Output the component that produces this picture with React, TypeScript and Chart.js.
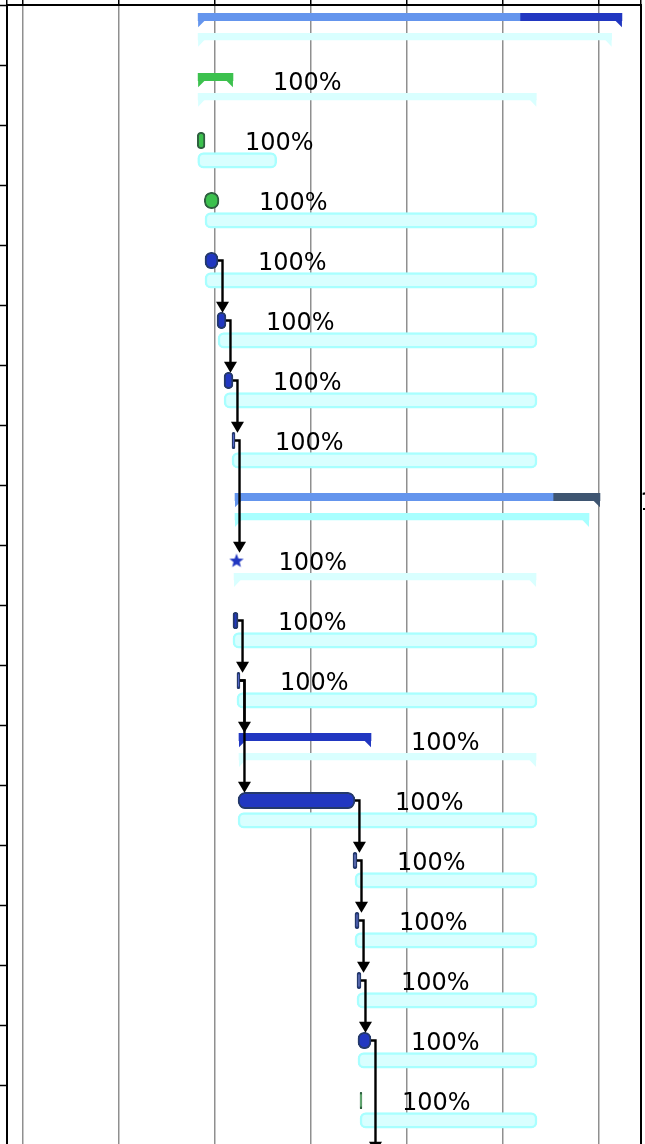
import { useEffect, useRef } from 'react';
import { Chart, registerables } from 'chart.js';

Chart.register(...registerables);

// ---- data (time axis in days; day 0 = first visible gridline) ----
const rowNames = [
  'Project', 'Phase A', 'Task A1', 'Task A2', 'Task A3', 'Task A4', 'Task A5', 'Task A6',
  'Phase B', 'Milestone B0', 'Task B1', 'Task B2', 'Phase C', 'Task C1', 'Task C2',
  'Task C3', 'Task C4', 'Task C5', 'Task C6',
];
const taskKind = [
  'summary', 'summary', 'task', 'task', 'task', 'task', 'task', 'task',
  'summary', 'milestone', 'task', 'task', 'summary', 'task', 'task',
  'task', 'task', 'task', 'task',
];
const taskStart = [12.8, 12.8, 12.74, 13.25, 13.3, 14.18, 14.69, 15.27, 15.49, 15.6, 15.34, 15.63, 15.78, 15.71, 24.09, 24.23, 24.38, 24.45, 24.6];
const taskEnd = [43.69, 15.34, 13.3, 14.32, 14.25, 14.83, 15.34, 15.49, 42.09, 15.6, 15.71, 15.85, 25.4, 24.23, 24.38, 24.53, 24.67, 25.4, 24.74];
const summarySplit = [36.26, null, null, null, null, null, null, null, 38.67, null, null, null, null, null, null, null, null, null, null];

const baseKind = [
  'summary', 'summary', 'task', 'task', 'task', 'task', 'task', 'task',
  'summary', 'summary', 'task', 'task', 'summary', 'task', 'task',
  'task', 'task', 'task', 'task',
];
const baseStart = [12.8, 12.8, 12.77, 13.3, 13.3, 14.25, 14.69, 15.27, 15.49, 15.42, 15.34, 15.63, 15.78, 15.71, 24.23, 24.23, 24.38, 24.45, 24.6];
const baseEnd = [42.94, 37.45, 18.53, 37.5, 37.5, 37.5, 37.5, 37.5, 41.29, 37.43, 37.5, 37.5, 37.43, 37.5, 37.5, 37.5, 37.5, 37.5, 37.5];

const progress = [100, 100, 100, 100, 100, 100, 100, 100, 100, 100, 100, 100, 100, 100, 100, 100, 100, 100, 100];

const links = [[4, 5], [5, 6], [6, 7], [7, 9], [10, 11], [11, 12], [11, 13], [13, 14], [14, 15], [15, 16], [16, 17], [17, 19]];

const xTicks = [-1.13, 0, 7, 14, 21, 28, 35, 42, 45.08];
const yTicks = [-0.5, 0.5, 1.5, 2.5, 3.5, 4.5, 5.5, 6.5, 7.5, 8.5, 9.5, 10.5, 11.5, 12.5, 13.5, 14.5, 15.5, 16.5, 17.5];

// ---- styles ----
const BLUE = '#2137C1';
const LIGHT = '#6495ED';
const SLATE = '#3E5571';
const GREEN = '#3CC14E';
const DKGREEN = '#2F6040';
const NAVY = '#24396B';
const BASE_FILL = '#D9FFFF';
const BASE_EDGE = '#A8FFFF';

const taskColor = [LIGHT, GREEN, GREEN, GREEN, BLUE, BLUE, BLUE, BLUE, LIGHT, BLUE, BLUE, BLUE, BLUE, BLUE, BLUE, BLUE, BLUE, BLUE, GREEN];
const taskBorder = [NAVY, DKGREEN, DKGREEN, DKGREEN, NAVY, NAVY, NAVY, NAVY, NAVY, NAVY, NAVY, NAVY, NAVY, NAVY, NAVY, NAVY, NAVY, NAVY, DKGREEN];
const splitColor = [BLUE, null, null, null, null, null, null, null, SLATE, null, null, null, null, null, null, null, null, null, null];
const baseSummaryColor = [BASE_FILL, BASE_FILL, null, null, null, null, null, null, BASE_EDGE, BASE_FILL, null, null, BASE_FILL, null, null, null, null, null, null];

const X_MIN = -1.13;
const X_MAX = 45.08;
const Y_MIN = -0.5;
const Y_MAX = 18.483;

const TASK_OFF = -0.2417;
const TASK_H = 16.5;
const BASE_OFF = 0.09;
const BASE_H = 15.5;
const SUM_OFF = -0.3;
const SUM_H = 7.5;
const SUMBASE_OFF = 0.027;
const SUMBASE_H = 6.5;
const TIP = 7;
const LABEL_OFF = -0.088;

const rows = rowNames.map((_, i) => i);

const ganttPlugin = {
  id: 'ganttDecor',
  afterDatasetsDraw(chart: any) {
    const { ctx } = chart;
    const x = chart.scales.x;
    const y = chart.scales.y;
    ctx.save();
    const tri = (pts: number[][], color: string) => {
      ctx.beginPath();
      ctx.moveTo(pts[0][0], pts[0][1]);
      ctx.lineTo(pts[1][0], pts[1][1]);
      ctx.lineTo(pts[2][0], pts[2][1]);
      ctx.closePath();
      ctx.fillStyle = color;
      ctx.fill();
    };
    // summary tips
    rows.forEach((r) => {
      if (taskKind[r] === 'summary') {
        const yb = y.getPixelForValue(r + SUM_OFF) + SUM_H / 2 - 0.5;
        const x0 = x.getPixelForValue(taskStart[r]);
        const x1 = x.getPixelForValue(taskEnd[r]);
        tri([[x0, yb], [x0 + TIP, yb], [x0, yb + TIP]], taskColor[r]);
        tri([[x1, yb], [x1 - TIP, yb], [x1, yb + TIP]], (splitColor[r] as string) || taskColor[r]);
      }
      if (baseKind[r] === 'summary') {
        const yb = y.getPixelForValue(r + SUMBASE_OFF) + SUMBASE_H / 2 - 0.5;
        const x0 = x.getPixelForValue(baseStart[r]);
        const x1 = x.getPixelForValue(baseEnd[r]);
        const c = baseSummaryColor[r] as string;
        tri([[x0, yb], [x0 + TIP, yb], [x0, yb + TIP + 0.5]], c);
        tri([[x1, yb], [x1 - TIP, yb], [x1, yb + TIP + 0.5]], c);
      }
    });
    // dependency arrows
    ctx.strokeStyle = '#000';
    ctx.fillStyle = '#000';
    ctx.lineWidth = 2.4;
    links.forEach(([s, t]) => {
      const sx = x.getPixelForValue(taskEnd[s]) + (taskKind[s] === 'milestone' ? 5 : 0);
      const sy = y.getPixelForValue(s + TASK_OFF);
      const vx = sx + 4.5;
      const ty = y.getPixelForValue(t + TASK_OFF) - TASK_H / 2 + 0.5;
      ctx.beginPath();
      ctx.moveTo(sx, sy);
      ctx.lineTo(vx, sy);
      ctx.lineTo(vx, ty - 9);
      ctx.stroke();
      ctx.beginPath();
      ctx.moveTo(vx - 6.5, ty - 11);
      ctx.lineTo(vx + 6.5, ty - 11);
      ctx.lineTo(vx, ty);
      ctx.closePath();
      ctx.fill();
    });
    // progress labels
    ctx.font = '24px "DejaVu Sans"';
    ctx.textBaseline = 'alphabetic';
    ctx.textAlign = 'left';
    ctx.fillStyle = '#000';
    rows.forEach((r) => {
      const ex = x.getPixelForValue(taskEnd[r]) + (taskKind[r] === 'milestone' ? 42 : 40);
      const ly = y.getPixelForValue(r + LABEL_OFF);
      ctx.fillText(progress[r] + '%', ex, ly);
    });
    ctx.restore();
  },
};

export default function App() {
  const ref = useRef<HTMLCanvasElement>(null);
  useEffect(() => {
    document.body.style.margin = '0';
    document.body.style.overflow = 'hidden';
    const canvas = ref.current!;

    const star = document.createElement('canvas');
    star.width = 16;
    star.height = 16;
    const sc = star.getContext('2d')!;
    sc.beginPath();
    for (let i = 0; i < 10; i++) {
      const a = -Math.PI / 2 + (i * Math.PI) / 5;
      const rad = i % 2 === 0 ? 7.5 : 3.2;
      sc.lineTo(8 + rad * Math.cos(a), 8.5 + rad * Math.sin(a));
    }
    sc.closePath();
    sc.fillStyle = BLUE;
    sc.fill();

    const taskRows = rows.filter((r) => taskKind[r] === 'task');
    const sumRows = rows.filter((r) => taskKind[r] === 'summary');
    const splitRows = rows.filter((r) => summarySplit[r] !== null);
    const msRows = rows.filter((r) => taskKind[r] === 'milestone');
    const baseTaskRows = rows.filter((r) => baseKind[r] === 'task');
    const baseSumRows = rows.filter((r) => baseKind[r] === 'summary');

    const chart = new Chart(canvas, {
      type: 'bar',
      data: {
        datasets: [
          {
            label: 'Baseline',
            data: baseTaskRows.map((r) => ({ x: [baseStart[r], baseEnd[r]], y: r + BASE_OFF })) as any,
            backgroundColor: BASE_FILL,
            borderColor: BASE_EDGE,
            borderWidth: 2.5,
            borderRadius: 6,
            borderSkipped: false,
            barThickness: BASE_H,
            grouped: false,
          } as any,
          {
            label: 'Baseline summary',
            data: baseSumRows.map((r) => ({ x: [baseStart[r], baseEnd[r]], y: r + SUMBASE_OFF })) as any,
            backgroundColor: baseSumRows.map((r) => baseSummaryColor[r]),
            borderWidth: 0,
            barThickness: SUMBASE_H,
            grouped: false,
          } as any,
          {
            label: 'Summary',
            data: sumRows.map((r) => ({ x: [taskStart[r], summarySplit[r] ?? taskEnd[r]], y: r + SUM_OFF })) as any,
            backgroundColor: sumRows.map((r) => taskColor[r]),
            borderWidth: 0,
            barThickness: SUM_H,
            grouped: false,
          } as any,
          {
            label: 'Summary remainder',
            data: splitRows.map((r) => ({ x: [summarySplit[r], taskEnd[r]], y: r + SUM_OFF })) as any,
            backgroundColor: splitRows.map((r) => splitColor[r]),
            borderWidth: 0,
            barThickness: SUM_H,
            grouped: false,
          } as any,
          {
            label: 'Tasks',
            data: taskRows.map((r) => ({ x: [taskStart[r], taskEnd[r]], y: r + TASK_OFF })) as any,
            backgroundColor: taskRows.map((r) => taskColor[r]),
            borderColor: taskRows.map((r) => taskBorder[r]),
            borderWidth: 2,
            borderRadius: 7.5,
            borderSkipped: false,
            barThickness: TASK_H,
            grouped: false,
          } as any,
          {
            type: 'scatter',
            label: 'Milestones',
            data: msRows.map((r) => ({ x: taskStart[r], y: r + TASK_OFF })),
            pointStyle: star,
            pointRadius: 8,
          } as any,
        ],
      },
      options: {
        indexAxis: 'y',
        animation: false,
        responsive: false,
        events: [],
        layout: { autoPadding: false, padding: { left: 0, top: 0, right: 4, bottom: 0 } },
        plugins: { legend: { display: false }, tooltip: { enabled: false } },
        scales: {
          x: {
            type: 'linear',
            position: 'top',
            min: X_MIN,
            max: X_MAX,
            offset: false,
            afterBuildTicks: (axis: any) => {
              axis.ticks = xTicks.map((v) => ({ value: v }));
            },
            ticks: { display: false },
            grid: {
              display: true,
              offset: false,
              color: '#8f8f8f',
              lineWidth: 1.5,
              drawTicks: true,
              tickLength: 5,
              tickColor: '#000',
              tickWidth: 1.5,
            },
            border: { display: true, color: '#000', width: 2 },
          },
          y: {
            type: 'linear',
            reverse: true,
            min: Y_MIN,
            max: Y_MAX,
            offset: false,
            beginAtZero: false,
            afterBuildTicks: (axis: any) => {
              axis.ticks = yTicks.map((v) => ({ value: v }));
            },
            ticks: { display: false },
            grid: {
              display: true,
              offset: false,
              drawOnChartArea: false,
              drawTicks: true,
              tickLength: 7,
              tickColor: '#000',
              tickWidth: 1.5,
            },
            border: { display: true, color: '#000', width: 2 },
          },
          y2: {
            type: 'linear',
            position: 'right',
            display: true,
            min: 0,
            max: 1,
            ticks: { display: false },
            grid: { display: false, drawTicks: false },
            border: { display: true, color: '#000', width: 2 },
          },
        },
      } as any,
      plugins: [ganttPlugin],
    });
    return () => chart.destroy();
  }, []);
  return <canvas ref={ref} width={645} height={1144} style={{ display: 'block' }} />;
}
